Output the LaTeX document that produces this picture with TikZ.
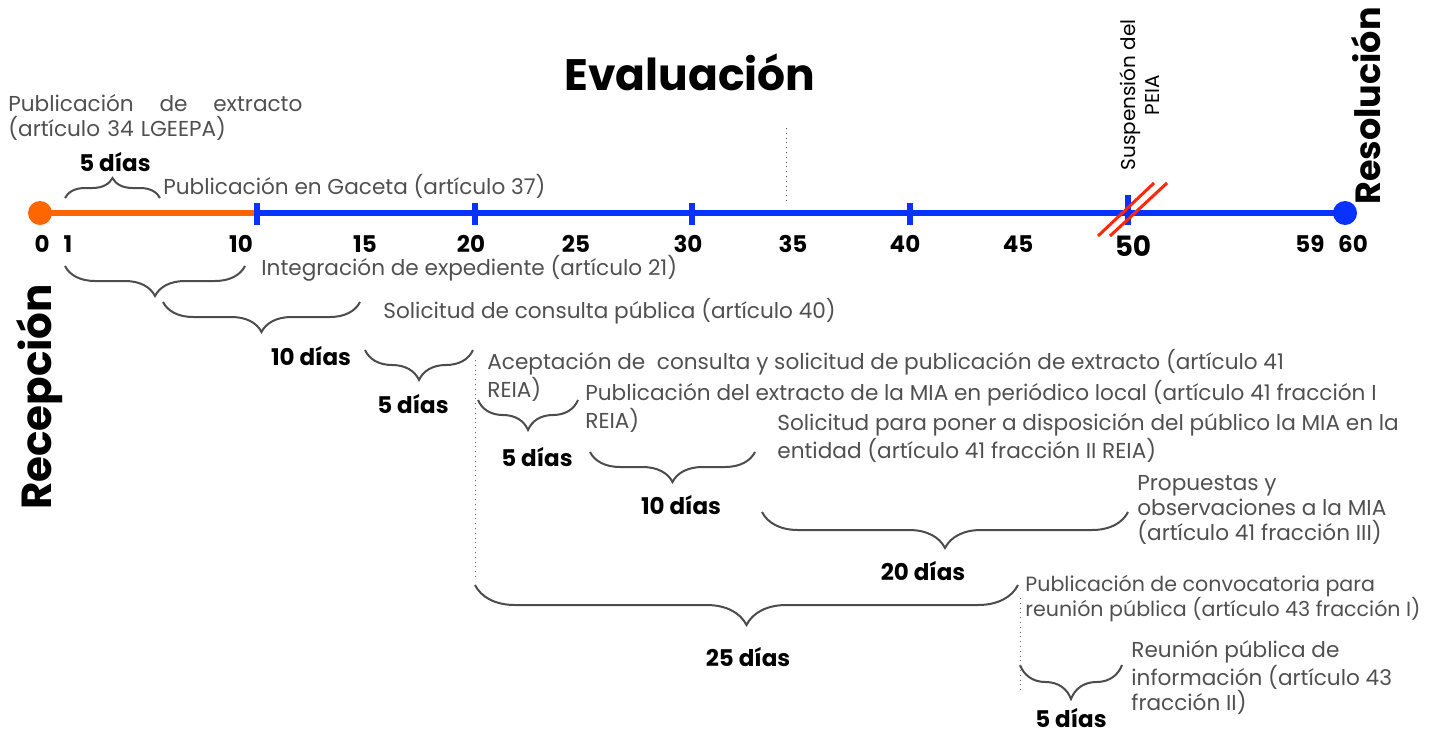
\documentclass[tikz,border=0pt]{standalone}
\usepackage{fontspec}
\setmainfont{Poppins}
\usetikzlibrary{decorations.pathreplacing,positioning}
\definecolor{lineaNaranja}{RGB}{255,102,0}
\definecolor{lineaAzul}{RGB}{10,50,255}
\definecolor{textoGris}{RGB}{80,80,80}
\definecolor{rojoCorte}{RGB}{255,40,10}
\tikzset{
	llave/.style={decorate, decoration={brace, mirror, amplitude=#1}, draw=black!70, line width=1pt},
	llave/.default=15pt,
	paso/.style={text=textoGris, font=\fontsize{10.8}{12.5}\selectfont, inner sep=0pt, align=left},
	dias/.style={font=\bfseries\fontsize{11.5}{13}\selectfont, inner sep=0pt},
	num/.style={font=\bfseries\fontsize{11.5}{13}\selectfont, inner sep=0pt},
	fase/.style={font=\bfseries\fontsize{22}{26}\selectfont, inner sep=0pt},
}

\begin{document}
\begin{tikzpicture}[x=0.5pt,y=-0.5pt]
	\useasboundingbox (0,0) rectangle (1433,733);
	%--- Phases ---
	\node[fase] (evaluacion) at (690,72) {Evaluación};
	\node[fase, font=\bfseries\fontsize{21}{25}\selectfont, rotate=90] (recepcion) at (40,397) {Recepción};
	\node[fase, font=\bfseries\fontsize{17.5}{20}\selectfont, rotate=90] (resolucion) at (1366,106) {Resolución};
	\node[font=\fontsize{10}{12}\selectfont, rotate=90, align=center, inner sep=0pt] (suspension) at (1140,95) {Suspensión del\\PEIA};

	%--- Timeline ---
	\coordinate (T0) at (40,213);
	\coordinate (T10) at (257,213);
	\coordinate (T60) at (1345,213);
	\draw[lineaNaranja, line width=3pt] (T0) -- (T10);
	\draw[lineaAzul, line width=3pt] (T10) -- (T60);
	\fill[lineaNaranja] (T0) circle (6pt);
	\fill[lineaAzul] (T60) circle (6pt);
	\foreach \x in {257,475,692,910}
		\fill[lineaAzul] (\x-3,203) rectangle (\x+3,225);
	\fill[lineaAzul] (1125,195) rectangle (1131,225);
	% suspension mark
	\draw[rojoCorte, line width=1.5pt] (1098,236) -- (1154,183);
	\draw[rojoCorte, line width=1.5pt] (1110,236) -- (1167,183);
	% day numbers
	\foreach \d/\x in {0/42,1/68,10/241,15/365,20/471,25/576,30/688,35/793,40/905,45/1018,59/1310,60/1353}
		\node[num] (n\d) at (\x,244) {\d};
	\node[num, font=\bfseries\fontsize{14}{16}\selectfont] (n50) at (1133,246) {50};
	% dotted guide at day 35
	\coordinate (G1) at (786,128);
	\coordinate (G2) at (786,202);
	\draw[dotted, black!70] (G1) -- (G2);

	%--- Steps ---
	\node[paso, anchor=north west, text width=147pt] (extracto) at (8,94) {Publicación\hfill de\hfill extracto\\(artículo 34 LGEEPA)};
	\node[paso, anchor=west] (gaceta) at (163,186) {Publicación en Gaceta (artículo 37)};
	\node[paso, anchor=west] (expediente) at (261,268) {Integración de expediente (artículo 21)};
	\node[paso, anchor=west] (consulta) at (383,311) {Solicitud de consulta pública (artículo 40)};
	\node[paso, anchor=north west] (aceptacion) at (487,349) {Aceptación de\ \ consulta y solicitud de publicación de extracto (artículo 41\\REIA)};
	\node[paso, anchor=north west] (periodico) at (585,380) {Publicación del extracto de la MIA en periódico local (artículo 41 fracción I\\REIA)};
	\node[paso, anchor=north west] (disposicion) at (777,413) {Solicitud para poner a disposición del público la MIA en la\\entidad (artículo 41 fracción II REIA)};
	\node[paso, anchor=north west] (propuestas) at (1137,475) {Propuestas y\\observaciones a la MIA\\(artículo 41 fracción III)};
	\node[paso, anchor=north west, font=\fontsize{10.3}{12.5}\selectfont] (convocatoria) at (1025,575) {Publicación de convocatoria para\\reunión pública (artículo 43 fracción I)};
	\node[paso, anchor=north west] (reunion) at (1131,640) {Reunión pública de\\información (artículo 43\\fracción II)};

	%--- Braces ---
	\coordinate (a1) at (65,198);   \coordinate (b1) at (160,198);
	\coordinate (a2) at (65,266);   \coordinate (b2) at (245,266);
	\coordinate (a3) at (163,302);  \coordinate (b3) at (360,302);
	\coordinate (a4) at (365,350);  \coordinate (b4) at (473,350);
	\coordinate (a5) at (478,400);  \coordinate (b5) at (578,400);
	\coordinate (a6) at (590,452);  \coordinate (b6) at (755,452);
	\coordinate (a7) at (762,512);  \coordinate (b7) at (1128,512);
	\coordinate (a8) at (475,585);  \coordinate (b8) at (1018,585);
	\coordinate (a9) at (1020,665); \coordinate (b9) at (1122,665);
	\draw[llave=10pt, decoration={mirror=false}] (a1) -- (b1);
	\foreach \i in {2,...,6}
		\draw[llave] (a\i) -- (b\i);
	\draw[llave=18pt] (a7) -- (b7);
	\draw[llave=20pt] (a8) -- (b8);
	\draw[llave=17pt] (a9) -- (b9);
	% dotted guides under the braces
	\coordinate (G3) at (475,360);  \coordinate (G4) at (475,578);
	\coordinate (G5) at (1020,598); \coordinate (G6) at (1020,690);
	\draw[dotted, black!60] (G3) -- (G4);
	\draw[dotted, black!60] (G5) -- (G6);

	%--- Durations ---
	\node[dias] (d1) at (115,162) {5 días};
	\node[dias] (d3) at (311,356) {10 días};
	\node[dias] (d4) at (413,404) {5 días};
	\node[dias] (d5) at (537,457) {5 días};
	\node[dias] (d6) at (681,505) {10 días};
	\node[dias] (d7) at (923,571) {20 días};
	\node[dias] (d8) at (748,657) {25 días};
	\node[dias] (d9) at (1071,718) {5 días};
\end{tikzpicture}
\end{document}
